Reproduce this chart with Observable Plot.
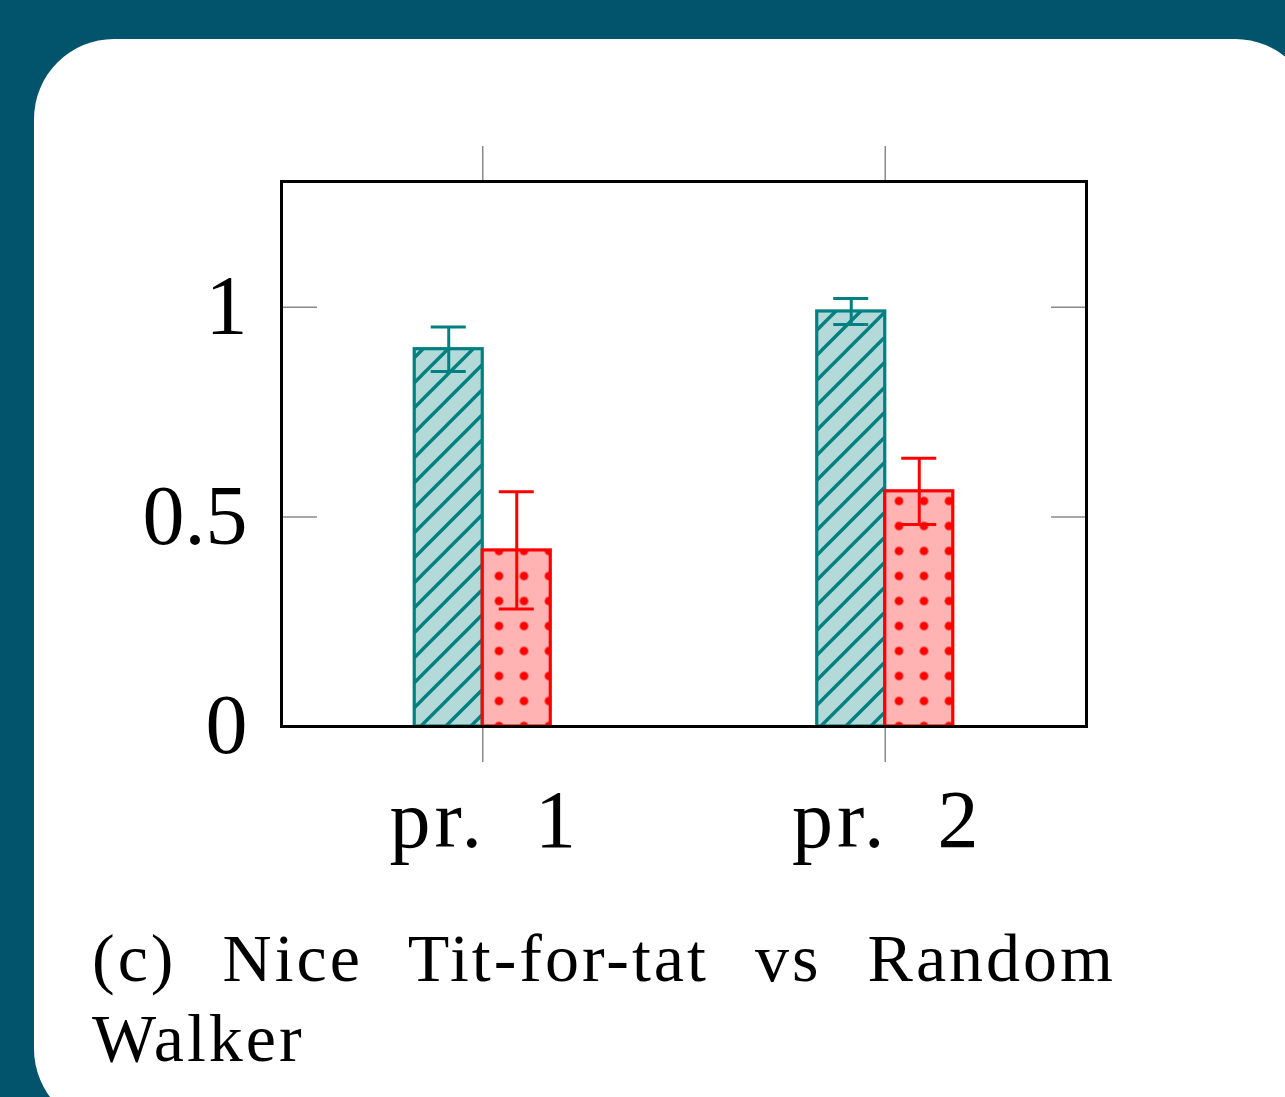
<!DOCTYPE html>
<html><head><meta charset="utf-8">
<script src="https://cdn.jsdelivr.net/npm/d3@7"></script>
<script src="https://cdn.jsdelivr.net/npm/@observablehq/plot@0.6"></script>
<style>
html,body{margin:0;padding:0;background:#01546b;width:1285px;height:1097px;overflow:hidden;}
#card{position:absolute;left:34px;top:39px;width:1281px;height:1090px;background:#fff;border-radius:80px;}
#chart{position:absolute;left:0;top:0;width:1285px;}
.cap{position:absolute;left:92px;font-family:"Liberation Serif",serif;font-size:68px;line-height:68px;color:#000;letter-spacing:3px;}
#cap1{top:924px;width:1024px;text-align:justify;text-align-last:justify;}
#cap2{top:1004px;white-space:nowrap;}
</style></head><body>
<div id="card"></div>
<div id="chart"></div>
<div class="cap" id="cap1">(c) Nice Tit-for-tat vs Random</div>
<div class="cap" id="cap2">Walker</div>
<script>
// ---- data ----
const categories = ["pr. 1", "pr. 2"];
const categoryPositions = [1, 2];
const seriesNames = ["Nice Tit-for-tat", "Random Walker"];
const ntftValues = [0.90, 0.99];
const ntftErrors = [0.053, 0.031];
const rwValues = [0.42, 0.561];
const rwErrors = [0.14, 0.079];
const yTicks = [0, 0.5, 1];
const yTickLabels = ["0", "0.5", "1"];

// ---- styles ----
const teal = "#008080", tealLight = "#b3d9d9";
const red = "#ff0000", redLight = "#ffb3b3";
const barW = 0.169;   // bar width in x units
const capW = 0.0435;  // half cap width in x units
const font = "'Liberation Serif', serif";

const rows = [];
categories.forEach((c, i) => {
  rows.push({cat: c, pos: categoryPositions[i], series: seriesNames[0], value: ntftValues[i], err: ntftErrors[i], side: -1});
  rows.push({cat: c, pos: categoryPositions[i], series: seriesNames[1], value: rwValues[i], err: rwErrors[i], side: 1});
});
const x1 = d => d.side < 0 ? d.pos - barW : d.pos;
const x2 = d => d.side < 0 ? d.pos : d.pos + barW;
const xc = d => d.pos + d.side * barW / 2;
const ntft = rows.filter(d => d.series === seriesNames[0]);
const rw = rows.filter(d => d.series === seriesNames[1]);

function errMarks(data, color) {
  return [
    Plot.ruleX(data, {x: xc, y1: d => d.value - d.err, y2: d => d.value + d.err, stroke: color, strokeWidth: 3}),
    Plot.ruleY(data, {y: d => d.value + d.err, x1: d => xc(d) - capW, x2: d => xc(d) + capW, stroke: color, strokeWidth: 3}),
    Plot.ruleY(data, {y: d => d.value - d.err, x1: d => xc(d) - capW, x2: d => xc(d) + capW, stroke: color, strokeWidth: 3})
  ];
}

const tickGray = "#8a8a8a";
const chart = Plot.plot({
  width: 1285, height: 880,
  marginLeft: 281, marginRight: 199, marginTop: 181, marginBottom: 154,
  style: {background: "transparent", fontFamily: font},
  x: {type: "linear", domain: [0.5, 2.5], axis: null},
  y: {domain: [0, 1.3], axis: null},
  marks: [
    Plot.rectY(ntft, {x1, x2, y1: 0, y2: "value", fill: "url(#hatchTeal)", stroke: teal, strokeWidth: 3.2}),
    Plot.rectY(rw, {x1, x2, y1: 0, y2: "value", fill: "url(#dotsRed)", stroke: red, strokeWidth: 3.2}),
    ...errMarks(ntft, teal),
    ...errMarks(rw, red),
    // y tick marks (inside, both sides)
    Plot.axisY({anchor: "left", ticks: yTicks, tickSize: 36, dx: 36, tickFormat: () => "", label: null, stroke: tickGray, strokeWidth: 1.5}),
    Plot.axisY({anchor: "right", ticks: yTicks, tickSize: 36, dx: -36, tickFormat: () => "", label: null, stroke: tickGray, strokeWidth: 1.5}),
    // y labels
    Plot.axisY({anchor: "left", ticks: yTicks, tickSize: 0, tickPadding: 34, tickFormat: d => yTickLabels[yTicks.indexOf(d)], label: null, fill: "black", fontSize: 84, fontFamily: font}),
    // x tick marks (outside, top and bottom)
    Plot.axisX({anchor: "bottom", ticks: categoryPositions, tickSize: 36, tickFormat: () => "", label: null, stroke: tickGray, strokeWidth: 1.5}),
    Plot.axisX({anchor: "top", ticks: categoryPositions, tickSize: 36, tickFormat: () => "", label: null, stroke: tickGray, strokeWidth: 1.5}),
    // x labels
    Plot.axisX({anchor: "bottom", ticks: categoryPositions, tickSize: 0, tickPadding: 62, tickFormat: d => categories[categoryPositions.indexOf(d)].replace(" ", "\u00a0\u00a0"), label: null, fill: "black", fontSize: 82, fontFamily: font, dx: 2}),
    Plot.frame({stroke: "black", strokeWidth: 3})
  ]
});

const defs = `
<pattern id="hatchTeal" patternUnits="userSpaceOnUse" width="25" height="25" x="-3" y="0">
  <rect width="25" height="25" fill="${tealLight}"/>
  <path d="M-5,5 L5,-5 M-2,27 L27,-2 M20,30 L30,20" stroke="${teal}" stroke-width="3.4"/>
</pattern>
<pattern id="dotsRed" patternUnits="userSpaceOnUse" width="25" height="25" x="11.5" y="-11.5">
  <rect width="25" height="25" fill="${redLight}"/>
  <circle cx="12.5" cy="12.5" r="4.3" fill="${red}"/>
</pattern>`;
d3.select(chart).insert("defs", ":first-child").html(defs);
d3.select(chart).selectAll("g[aria-label='x-axis tick label'] text").style("letter-spacing", "4px");
document.getElementById("chart").appendChild(chart);
</script>
</body></html>
